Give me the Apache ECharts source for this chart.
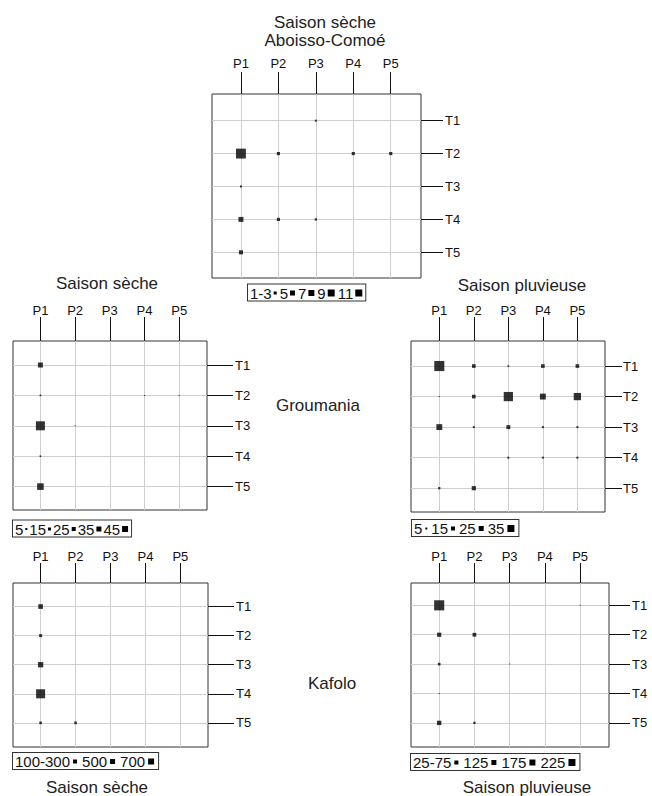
<!DOCTYPE html>
<html><head><meta charset="utf-8">
<script src="https://cdn.jsdelivr.net/npm/echarts@6/dist/echarts.min.js"></script>
<style>html,body{margin:0;padding:0;background:#fff}#c{width:652px;height:796px}</style>
</head><body><div id="c"></div>
<script>
// ---- data ----
const pLabels = ['P1', 'P2', 'P3', 'P4', 'P5'];
const tLabels = ['T1', 'T2', 'T3', 'T4', 'T5'];
// rows = T1..T5, columns = P1..P5 ; 0 = absent
const aboissoSeche = [[0, 0, 2.2, 0, 0], [11, 3.5, 0, 3.5, 3.5], [2.2, 0, 0, 0, 0], [5.5, 3.5, 2.5, 0, 0], [4.5, 0, 0, 0, 0]];
const groumaniaSeche = [[25, 0, 0, 0, 0], [8, 0, 0, 5, 5], [45, 5, 0, 0, 0], [8, 0, 0, 0, 0], [33, 0, 0, 0, 0]];
const groumaniaPluvieuse = [[36, 13, 6, 13, 13], [3, 13, 33, 21, 26], [21, 7, 14, 7, 7], [0, 0, 7, 7, 7], [8, 15, 0, 0, 0]];
const kafoloSeche = [[360, 0, 0, 0, 0], [230, 0, 0, 0, 0], [410, 0, 0, 0, 0], [700, 0, 0, 0, 0], [200, 200, 0, 0, 0]];
const kafoloPluvieuse = [[230, 0, 0, 0, 20], [95, 85, 0, 0, 0], [60, 0, 20, 0, 0], [20, 0, 0, 0, 0], [100, 50, 0, 0, 0]];
const legendAboissoSeche = ['1-3', '5', '7', '9', '11'];
const legendGroumaniaSeche = ['5', '15', '25', '35', '45'];
const legendGroumaniaPluvieuse = ['5', '15', '25', '35'];
const legendKafoloSeche = ['100-300', '500', '700'];
const legendKafoloPluvieuse = ['25-75', '125', '175', '225'];

// ---- layout / style ----
const FONT = '"Liberation Sans", Arial, sans-serif';
const panels = [
  { data: aboissoSeche, legend: legendAboissoSeche, grid: { left: 212, top: 94, width: 209, height: 184 },
    xr: [0.227, 5.808], yr: [0.19, 5.78], xt: 22, xm: 24, yt: 22, ym: 24, k: 0.9,
    lg: { x: 248, y: 292.5, sq: [3, 5, 6, 7, 7], gb: 2, ga: 3 } },
  { data: groumaniaSeche, legend: legendGroumaniaSeche, grid: { left: 13, top: 341, width: 194, height: 169 },
    xr: [0.21, 5.80], yr: [0.21, 5.77], xt: 24, xm: 24, yt: 26, ym: 28, k: 0.2,
    lg: { x: 13, y: 528.5, sq: [2, 3, 4, 5, 6], gb: 2, ga: 2 } },
  { data: groumaniaPluvieuse, legend: legendGroumaniaPluvieuse, grid: { left: 411, top: 341, width: 194, height: 171 },
    xr: [0.18, 5.80], yr: [0.18, 5.78], xt: 24, xm: 24, yt: 17, ym: 18, k: 0.28,
    lg: { x: 412, y: 528, sq: [2, 4, 5, 7], gb: 3, ga: 4 } },
  { data: kafoloSeche, legend: legendKafoloSeche, grid: { left: 13, top: 583, width: 195, height: 164 },
    xr: [0.21, 5.79], yr: [0.19, 5.83], xt: 20, xm: 20, yt: 26, ym: 28, k: 0.0129,
    lg: { x: 13, y: 761, sq: [4, 5, 6], gb: 3, ga: 5 } },
  { data: kafoloPluvieuse, legend: legendKafoloPluvieuse, grid: { left: 411, top: 583, width: 198, height: 164 },
    xr: [0.20, 5.82], yr: [0.24, 5.82], xt: 20, xm: 20, yt: 21, ym: 23, k: 0.044,
    lg: { x: 411, y: 762, sq: [4, 5, 6, 7], gb: 3, ga: 5 } }
];

const ticks = [1, 2, 3, 4, 5];
const grids = [], xAxes = [], yAxes = [], series = [], graphics = [];

panels.forEach((p, i) => {
  grids.push(Object.assign({ show: true, borderColor: '#333', borderWidth: 1, backgroundColor: 'transparent' }, p.grid));
  xAxes.push({
    type: 'value', gridIndex: i, position: 'top', min: p.xr[0], max: p.xr[1],
    axisLine: { show: false },
    axisTick: { show: true, inside: false, length: p.xt, customValues: ticks, lineStyle: { color: '#111', width: 1 } },
    axisLabel: { customValues: ticks, margin: p.xm, formatter: v => pLabels[Math.round(v) - 1], color: '#111', fontSize: 13, fontFamily: FONT },
    splitLine: { show: true, lineStyle: { color: '#cfcfcf', width: 1 } }
  });
  yAxes.push({
    type: 'value', gridIndex: i, position: 'right', inverse: true, min: p.yr[0], max: p.yr[1],
    axisLine: { show: false },
    axisTick: { show: true, inside: false, length: p.yt, customValues: ticks, lineStyle: { color: '#111', width: 1 } },
    axisLabel: { customValues: ticks, margin: p.ym, formatter: v => tLabels[Math.round(v) - 1], color: '#111', fontSize: 13, fontFamily: FONT },
    splitLine: { show: true, lineStyle: { color: '#cfcfcf', width: 1 } }
  });
  const pts = [];
  p.data.forEach((row, t) => row.forEach((v, c) => { if (v > 0) pts.push([c + 1, t + 1, v]); }));
  const k = p.k;
  series.push({
    type: 'scatter', xAxisIndex: i, yAxisIndex: i, symbol: 'rect', silent: true,
    symbolSize: d => Math.max(1, d[2] * k),
    itemStyle: { color: '#000' }, data: pts, animation: false
  });
  // legend as rich text with black squares
  const rich = { gb: { width: p.lg.gb }, ga: { width: p.lg.ga } };
  let txt = '';
  p.legend.forEach((lab, j) => {
    const s = p.lg.sq[j];
    rich['q' + j] = { width: s, height: s, backgroundColor: '#000' };
    txt += lab + '{gb|\u00a0}{q' + j + '|\u00a0}' + (j < p.legend.length - 1 ? '{ga|\u00a0}' : '{gb|\u00a0}');
  });
  graphics.push({
    type: 'text', x: p.lg.x, y: p.lg.y, silent: true,
    style: {
      text: txt, rich: rich, align: 'left', textAlign: 'left', verticalAlign: 'middle', textVerticalAlign: 'middle',
      font: '15px ' + FONT, fill: '#111', backgroundColor: '#fff', borderColor: '#333', borderWidth: 1, padding: [1, 1, 0, 2]
    }
  });
});

const titles = [
  ['Saison sèche', 325, 22], ['Aboisso-Comoé', 325, 40],
  ['Saison sèche', 107, 283], ['Saison pluvieuse', 522, 285],
  ['Groumania', 318, 405], ['Kafolo', 332, 683],
  ['Saison sèche', 97, 787], ['Saison pluvieuse', 527, 787]
];
titles.forEach(t => graphics.push({
  type: 'text', x: t[1], y: t[2], silent: true,
  style: { text: t[0], align: 'center', textAlign: 'center', verticalAlign: 'middle', textVerticalAlign: 'middle', font: '17px ' + FONT, fill: '#222' }
}));

const chart = echarts.init(document.getElementById('c'), null, { renderer: 'svg' });
chart.setOption({
  animation: false,
  grid: grids, xAxis: xAxes, yAxis: yAxes, series: series,
  graphic: { elements: graphics }
});
</script></body></html>
